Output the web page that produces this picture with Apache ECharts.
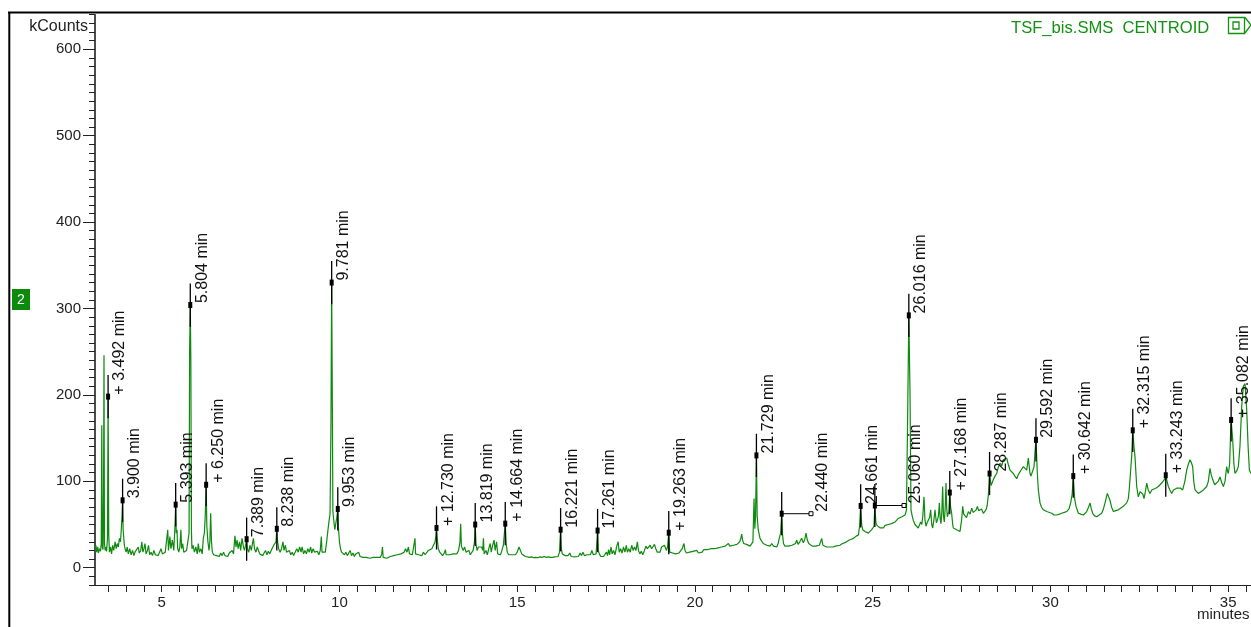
<!DOCTYPE html>
<html>
<head>
<meta charset="utf-8">
<script src="https://cdn.jsdelivr.net/npm/echarts@6/dist/echarts.min.js"></script>
<style>
  html, body { margin: 0; padding: 0; background: #fff; }
  #chart { width: 1251px; height: 627px; }
</style>
</head>
<body>
<div id="chart"></div>
<script>
// Total ion chromatogram: [retention time (min), intensity (kCounts)]
const chromatogram = [
  [3.124,20],[3.15,26],[3.17,18],[3.20,24],[3.22,17],[3.25,22],[3.28,19],[3.30,28],[3.315,165],[3.33,24],[3.35,21],[3.365,90],[3.377,246],[3.39,28],[3.41,20],[3.43,24],[3.45,19],[3.475,34],[3.492,198],[3.51,38],[3.53,18],[3.56,24],[3.59,16],[3.62,26],[3.65,20],[3.69,30],[3.72,22],[3.75,28],[3.78,24],[3.81,34],[3.84,30],[3.86,42],[3.885,60],[3.90,78],[3.915,44],[3.935,42],[3.95,26],[3.97,22],[4.00,18],
  [4.03,24],[4.06,16],[4.10,22],[4.14,15],[4.18,20],[4.22,14],[4.25,18],[4.30,16],[4.34,24],[4.37,17],[4.41,20],[4.44,30],[4.47,18],[4.50,22],[4.53,28],[4.56,16],[4.60,20],[4.63,26],[4.66,15],[4.70,18],[4.74,14],[4.78,20],[4.82,15],[4.86,17],[4.90,14],[4.94,18],[4.98,22],[5.02,16],[5.06,14],[5.10,18],[5.14,20],[5.17,44],[5.19,20],[5.23,36],[5.26,22],[5.30,32],[5.34,20],[5.37,45],[5.393,73],[5.41,40],[5.43,44],[5.45,22],[5.48,18],[5.51,24],[5.54,44],[5.56,22],[5.59,28],[5.62,18],[5.66,16],[5.70,20],[5.74,18],[5.77,40],[5.785,250],[5.804,304],[5.82,240],[5.835,45],[5.85,22],
  [5.88,26],[5.92,18],[5.96,24],[6.00,16],[6.03,28],[6.06,18],[6.10,22],[6.14,16],[6.17,34],[6.20,40],[6.225,60],[6.25,96],[6.27,48],[6.30,30],[6.33,20],[6.355,30],[6.378,63],[6.40,30],[6.425,18],[6.46,15],[6.50,17],[6.54,14],[6.58,16],[6.62,13],[6.66,17],[6.70,14],[6.74,18],[6.78,14],[6.82,16],[6.86,13],[6.90,17],[6.94,15],[6.98,20],[7.02,16],[7.06,37],[7.09,24],[7.12,32],[7.15,22],[7.19,30],[7.22,20],[7.26,34],[7.30,24],[7.33,20],[7.36,26],[7.389,33],[7.41,22],[7.45,18],[7.48,26],[7.52,20],[7.56,22],[7.58,34],[7.61,22],[7.65,18],[7.69,24],[7.72,20],[7.76,16],[7.80,18],[7.84,14],[7.88,17],[7.92,20],[7.96,15],[8.00,19],[8.04,16],[8.08,20],[8.12,18],[8.15,26],[8.19,24],[8.215,30],[8.238,45],[8.26,30],[8.29,22],[8.33,18],[8.37,22],[8.41,30],[8.44,20],[8.48,26],[8.51,18],[8.55,16],[8.59,20],[8.63,15],[8.67,18],[8.71,14],[8.75,16],[8.80,22],[8.84,18],[8.88,24],[8.92,18],[8.95,24],[8.99,16],[9.03,20],[9.07,16],[9.11,22],[9.15,18],[9.19,24],[9.22,17],[9.26,22],[9.30,18],[9.34,16],[9.38,19],[9.42,15],[9.46,20],[9.49,36],[9.51,18],[9.55,16],[9.60,18],[9.64,30],[9.68,45],[9.71,55],[9.735,62],[9.76,160],[9.781,330],[9.80,190],[9.815,65],[9.84,55],[9.87,44],[9.90,52],[9.925,58],[9.953,68],[9.975,44],[10.00,30],[10.03,22],[10.06,18],
  [10.10,20],[10.14,15],[10.18,18],[10.22,14],[10.26,16],[10.30,20],[10.34,14],[10.38,17],[10.42,13],[10.46,16],[10.50,14],[10.54,18],[10.58,13],[10.62,15],[10.66,12],[10.70,14],[10.75,12],[10.80,13],[10.85,11],[10.90,13],[10.95,12],[11.00,14],[11.05,12],[11.10,13],[11.15,12],[11.19,16],[11.21,24],[11.23,12],[11.28,13],[11.33,11],[11.38,12],[11.43,13],[11.48,12],[11.53,14],[11.58,12],[11.63,15],[11.68,13],[11.73,16],[11.78,14],[11.82,18],[11.86,22],[11.90,18],[11.94,24],[11.97,16],[12.00,18],[12.05,15],[12.10,17],[12.125,34],[12.14,16],[12.18,18],[12.22,15],[12.27,17],[12.32,14],[12.36,18],[12.41,15],[12.46,17],[12.50,20],[12.55,18],[12.60,22],[12.65,24],[12.69,30],[12.71,36],[12.73,46],[12.75,34],[12.78,22],[12.82,18],[12.86,16],[12.90,14],[12.95,17],[12.98,21],[13.00,15],[13.05,14],[13.10,15],[13.15,14],[13.20,16],[13.25,18],[13.30,16],[13.35,20],[13.39,30],[13.41,51],[13.43,25],[13.48,20],[13.52,24],[13.56,18],[13.60,16],[13.64,20],[13.68,15],[13.72,17],[13.76,20],[13.80,30],[13.819,50],[13.84,28],[13.87,20],[13.91,24],[13.95,22],
  [14.00,24],[14.03,20],[14.05,34],[14.07,16],[14.12,20],[14.16,15],[14.20,22],[14.24,28],[14.27,18],[14.31,26],[14.35,32],[14.38,20],[14.42,30],[14.45,16],[14.49,18],[14.53,15],[14.57,20],[14.61,26],[14.664,51],[14.69,28],[14.72,18],[14.76,15],[14.80,14],[14.85,15],[14.90,13],[14.95,15],[15.00,18],[15.05,24],[15.09,20],[15.13,16],[15.18,14],[15.23,13],[15.28,12.5],[15.34,12],[15.40,12.5],[15.46,11.5],[15.52,12],[15.58,11.5],[15.64,12.5],[15.70,12],[15.76,13],[15.82,12],[15.88,12.5],[15.94,12],[16.00,12],[16.06,12.5],[16.11,12],[16.15,13],[16.19,18],[16.221,44],[16.24,22],[16.27,16],[16.31,18],[16.35,14],[16.39,16],[16.43,14],[16.48,17],[16.52,13],[16.57,13],[16.62,12.5],[16.67,14],[16.72,13],[16.77,17],[16.81,14],[16.85,18],[16.89,14],[16.93,13],[16.97,15],[17.01,13],[17.06,15],[17.10,20],[17.14,15],[17.18,14],[17.22,16],[17.261,43],[17.28,20],[17.31,16],[17.35,13],[17.39,12.5],[17.43,13],[17.47,13],[17.51,18],[17.54,14],[17.57,21],[17.60,15],[17.64,24],[17.67,16],[17.71,20],[17.75,15],[17.80,25],[17.84,30],[17.87,18],[17.91,22],[17.95,17],[17.99,24],[18.03,18],[18.07,26],[18.10,18],[18.14,22],[18.18,18],[18.22,26],[18.26,20],[18.30,24],[18.34,20],[18.38,30],[18.41,20],[18.45,16],[18.49,19],[18.53,15],[18.58,20],[18.62,25],[18.66,22],[18.70,20],[18.74,26],[18.78,22],[18.82,20],[18.86,27],[18.90,22],[18.94,18],[18.98,20],[19.02,18],[19.06,24],[19.10,22],[19.14,26],[19.17,28],[19.20,20],[19.23,24],[19.263,40.5],
  [19.29,18],[19.33,16],[19.37,17],[19.41,15],[19.45,16],[19.50,15],[19.55,17],[19.60,18],[19.64,22],[19.69,28],[19.72,20],[19.76,17],[19.80,16],[19.85,18],[19.90,17],[19.95,19],[20.00,17],[20.05,20],[20.10,17],[20.15,19],[20.20,18],[20.25,21],[20.30,19],[20.35,21],[20.40,20],[20.45,22],[20.50,21],[20.55,22],[20.60,21],[20.65,23],[20.70,22],[20.75,24],[20.80,23],[20.85,25],[20.90,24],[20.94,28],[20.98,25],[21.03,26],[21.08,26],[21.13,24],[21.18,27],[21.22,28],[21.26,30],[21.29,34],[21.315,39],[21.34,32],[21.37,28],[21.41,30],[21.45,27],[21.50,28],[21.55,25],[21.60,26],[21.63,30],[21.662,80],[21.685,45],[21.705,60],[21.729,130],[21.75,60],[21.78,44],[21.83,34],[21.88,32],[21.92,28],[21.97,30],[22.02,26],[22.06,26],[22.11,25],[22.16,28],[22.21,25],[22.25,24],[22.30,24],[22.34,28],[22.37,34],[22.41,40],[22.44,62.5],
  [22.46,40],[22.49,28],[22.53,25],[22.58,24],[22.63,25],[22.68,24],[22.73,26],[22.78,25],[22.83,28],[22.86,32],[22.90,27],[22.95,30],[23.00,34],[23.05,29],[23.09,33],[23.124,40],[23.16,32],[23.20,28],[23.25,26],[23.30,25],[23.35,24],[23.40,25],[23.45,24],[23.50,26],[23.535,28],[23.565,34],[23.60,26],[23.65,25],[23.70,24],[23.75,25],[23.80,24],[23.85,25],[23.89,24],[23.95,25],[24.00,26],[24.08,26],[24.15,28],[24.22,29],[24.27,30],[24.34,32],[24.40,33],[24.46,34],[24.52,36],[24.60,38],[24.63,48],[24.661,71.5],[24.69,50],[24.718,44],[24.75,42],[24.784,42],[24.83,40],[24.877,40],[24.92,42],[24.971,44],[25.00,45],[25.037,48],[25.06,72],[25.09,52],[25.12,49],
  [25.16,49],[25.21,46],[25.25,48],[25.30,46],[25.35,49],[25.39,48],[25.44,50],[25.49,49],[25.53,51],[25.58,52],[25.63,53],[25.67,55],[25.72,57],[25.77,58],[25.82,59],[25.86,60],[25.91,61],[25.95,67],[25.984,179],[26.016,292],[26.05,200],[26.077,67],[26.11,60],[26.14,55],[26.19,50],[26.24,51],[26.28,46],[26.31,48],[26.35,53],[26.38,50],[26.41,60],[26.443,82],[26.47,55],[26.50,48],[26.53,52],[26.565,53],[26.60,58],[26.631,67],[26.66,50],[26.687,46],[26.72,55],[26.753,67],[26.79,52],[26.818,55],[26.85,60],[26.875,75],[26.90,56],[26.921,51],[26.945,65],[26.968,94],[26.99,60],[27.015,53],[27.04,70],[27.062,98],[27.08,70],[27.10,59],[27.14,65],[27.168,87],[27.19,70],[27.221,63],[27.25,50],[27.268,46],[27.31,45],[27.362,44],[27.41,43],[27.456,42],[27.50,55],[27.531,71],[27.56,62],[27.597,61],[27.64,58],[27.69,65],[27.74,62],[27.784,69],[27.83,64],[27.878,63],[27.91,67],[27.944,71],[27.98,66],[28.019,65],[28.06,68],[28.112,63],[28.15,65],[28.187,67],[28.22,72],[28.253,84],[28.287,109],[28.33,95],[28.394,102],[28.44,106],[28.487,109],[28.53,116],[28.581,121],[28.63,118],[28.675,125],[28.72,123],[28.769,127],[28.81,120],[28.862,113],[28.91,112],[28.956,109],[29.00,106],[29.05,103],[29.10,108],[29.144,111],[29.19,114],[29.237,117],[29.28,115],[29.331,113],[29.378,127],[29.40,118],[29.425,109],[29.45,106],[29.472,105],[29.50,112],[29.537,117],[29.565,134],[29.592,148],
  [29.63,110],[29.659,90],[29.706,75],[29.75,70],[29.80,67],[29.85,65],[29.894,65],[29.95,63],[30.034,63],[30.10,61],[30.175,61],[30.25,62],[30.316,63],[30.39,64],[30.456,65],[30.52,68],[30.569,75],[30.61,85],[30.642,106],[30.68,80],[30.719,71],[30.785,63],[30.85,62],[30.925,61],[30.97,63],[31.019,65],[31.07,70],[31.113,75],[31.15,68],[31.188,63],[31.24,60],[31.30,59],[31.37,61],[31.441,63],[31.49,68],[31.535,75],[31.60,86],[31.675,78],[31.72,70],[31.769,65],[31.84,66],[31.91,67],[31.98,69],[32.05,71],[32.10,73],[32.144,75],[32.19,80],[32.219,92],[32.285,129],[32.315,159],[32.35,140],[32.379,128],[32.426,94],[32.472,82],[32.52,88],[32.566,90],[32.60,85],[32.632,80],[32.67,88],[32.707,98],[32.75,90],[32.80,86],[32.85,90],[32.894,92],[32.96,92],[33.035,94],[33.08,96],[33.129,98],[33.18,100],[33.223,103],[33.243,107],[33.28,100],[33.316,94],[33.36,90],[33.41,86],[33.46,90],[33.504,90],[33.55,92],[33.597,94],[33.66,92],[33.719,90],[33.78,100],[33.832,113],[33.88,120],[33.926,125],[33.96,122],[34.00,117],[34.03,100],[34.066,90],[34.11,88],[34.16,86],[34.23,88],[34.301,90],[34.35,92],[34.395,94],[34.44,100],[34.488,115],[34.52,108],[34.563,102],[34.62,96],[34.676,94],[34.72,100],[34.769,105],[34.82,98],[34.863,94],[34.91,100],[34.957,117],[34.98,112],[35.004,109],[35.04,120],[35.07,159],[35.082,171],[35.126,148],[35.16,120],[35.191,109],[35.24,112],[35.285,117],[35.33,140],[35.379,186],[35.426,210],[35.473,213],[35.52,183],[35.56,140],[35.595,113],[35.641,109]
];

// Integrated peaks: retention time, apex height (kCounts)
const peakTimes   = [3.492, 3.900, 5.393, 5.804, 6.250, 7.389, 8.238, 9.781, 9.953, 12.730, 13.819, 14.664, 16.221, 17.261, 19.263, 21.729, 22.440, 24.661, 25.060, 26.016, 27.168, 28.287, 29.592, 30.642, 32.315, 33.243, 35.082];
const peakHeights = [198, 78, 73, 304, 96, 33, 45, 330, 68, 46, 50, 51, 44, 43, 40.5, 130, 62.5, 71.5, 72, 292, 87, 109, 148, 106, 159, 107, 171];
// peaks flagged with "+" in the peak table
const peakFlagged = [true, false, false, false, true, false, false, false, false, true, false, true, false, false, true, false, false, false, false, false, true, false, false, true, true, true, true];
// integration end times drawn as horizontal baselines (null = none)
const peakEnds    = [null, null, null, null, null, null, null, null, null, null, null, null, null, null, null, null, 23.264, null, 25.88, null, null, null, null, null, null, null, null];

// Axis ticks
const xLabelValues = [5, 10, 15, 20, 25, 30, 35];
const xTickValues = [3.5, 4, 4.5, 5, 5.5, 6, 6.5, 7, 7.5, 8, 8.5, 9, 9.5, 10, 10.5, 11, 11.5, 12, 12.5, 13, 13.5, 14, 14.5, 15, 15.5, 16, 16.5, 17, 17.5, 18, 18.5, 19, 19.5, 20, 20.5, 21, 21.5, 22, 22.5, 23, 23.5, 24, 24.5, 25, 25.5, 26, 26.5, 27, 27.5, 28, 28.5, 29, 29.5, 30, 30.5, 31, 31.5, 32, 32.5, 33, 33.5, 34, 34.5, 35, 35.5];
const yLabelValues = [0, 100, 200, 300, 400, 500, 600];

const X_MIN = 3.1238, X_MAX = 35.641;
const Y_MIN = -20, Y_MAX = 640;
const MARK_HALF = 25;   // half length of the peak marker bar, kCounts

const TRACE_GREEN = '#0e8a0e';
const FONT = '"Liberation Sans", Arial, Helvetica, sans-serif';

const chart = echarts.init(document.getElementById('chart'), null, { renderer: 'canvas' });

const peakData = peakTimes.map((t, i) => [t, peakHeights[i], i]);

const option = {
  animation: false,
  backgroundColor: '#fff',
  title: {
    text: 'TSF_bis.SMS  CENTROID',
    left: 1011,
    top: 20,
    padding: 0,
    textStyle: { color: '#129212', fontSize: 16.6, fontWeight: 'normal', fontFamily: FONT }
  },
  grid: { left: 95, right: 0, top: 14.7, bottom: 42, containLabel: false },
  xAxis: {
    type: 'value',
    min: X_MIN,
    max: X_MAX,
    axisLine: { show: true, onZero: false, lineStyle: { color: '#222', width: 1 } },
    axisTick: { show: true, length: 7, customValues: xTickValues, lineStyle: { color: '#222', width: 1 } },
    axisLabel: { customValues: xLabelValues, margin: 10, color: '#222', fontSize: 15, fontFamily: FONT },
    splitLine: { show: false }
  },
  yAxis: [
    {
      type: 'value',
      min: Y_MIN,
      max: Y_MAX,
      interval: 10,
      axisLine: { show: true, onZero: false, lineStyle: { color: '#111', width: 1.5 } },
      axisTick: { show: true, length: 6, lineStyle: { color: '#222', width: 1 } },
      axisLabel: { show: false },
      splitLine: { show: false }
    },
    {
      type: 'value',
      min: Y_MIN,
      max: Y_MAX,
      position: 'left',
      axisLine: { show: false },
      axisTick: { show: true, length: 12, customValues: yLabelValues, lineStyle: { color: '#222', width: 1 } },
      axisLabel: { customValues: yLabelValues, margin: 14, color: '#222', fontSize: 15, fontFamily: FONT },
      splitLine: { show: false }
    }
  ],
  series: [
    {
      type: 'line',
      data: chromatogram,
      xAxisIndex: 0,
      yAxisIndex: 0,
      showSymbol: false,
      symbol: 'none',
      sampling: null,
      clip: true,
      lineStyle: { color: TRACE_GREEN, width: 1.2 },
      z: 2
    },
    {
      type: 'custom',
      data: peakData,
      xAxisIndex: 0,
      yAxisIndex: 0,
      z: 3,
      renderItem: function (params, api) {
        const i = api.value(2);
        const t = api.value(0), h = api.value(1);
        const p = api.coord([t, h]);
        const top = api.coord([t, h + MARK_HALF])[1];
        const bot = api.coord([t, h - MARK_HALF])[1];
        const children = [
          { type: 'line', shape: { x1: p[0], y1: top, x2: p[0], y2: bot }, style: { stroke: '#000', lineWidth: 1.3 } },
          { type: 'rect', shape: { x: p[0] - 2, y: p[1] - 3, width: 4, height: 6 }, style: { fill: '#000' } }
        ];
        let labelX = p[0];
        if (peakEnds[i] != null) {
          const e = api.coord([peakEnds[i], h]);
          children.push({ type: 'line', shape: { x1: p[0], y1: p[1], x2: e[0], y2: p[1] }, style: { stroke: '#000', lineWidth: 1 } });
          children.push({ type: 'rect', shape: { x: e[0] - 2, y: p[1] - 2, width: 4, height: 4 }, style: { fill: '#fff', stroke: '#000', lineWidth: 1 } });
          labelX = e[0];
        }
        const text = (peakFlagged[i] ? '+ ' : '') + peakTimes[i].toFixed(3) + ' min';
        children.push({
          type: 'text',
          x: labelX + 12,
          y: p[1] - 2,
          rotation: Math.PI / 2,
          style: { text: text, fill: '#111', font: '16px ' + FONT, align: 'left', verticalAlign: 'middle' }
        });
        return { type: 'group', children: children };
      }
    }
  ],
  graphic: [
    // window frame
    { type: 'line', shape: { x1: 8, y1: 12.5, x2: 1251, y2: 12.5 }, style: { stroke: '#000', lineWidth: 2 }, z: 10 },
    { type: 'line', shape: { x1: 9.3, y1: 12, x2: 9.3, y2: 627 }, style: { stroke: '#000', lineWidth: 2 }, z: 10 },
    // y unit
    { type: 'text', x: 88, y: 27, style: { text: 'kCounts', fill: '#222', font: '16px ' + FONT, align: 'right', verticalAlign: 'middle' }, z: 10 },
    // x unit
    { type: 'text', x: 1197, y: 615, style: { text: 'minutes', fill: '#222', font: '15px ' + FONT, align: 'left', verticalAlign: 'middle' }, z: 10 },
    // trace number tag
    { type: 'rect', shape: { x: 12, y: 289, width: 18, height: 21 }, style: { fill: '#0b8a0b' }, z: 10 },
    { type: 'text', x: 21, y: 300, style: { text: '2', fill: '#fff', font: '14px ' + FONT, align: 'center', verticalAlign: 'middle' }, z: 11 },
    // window buttons
    { type: 'rect', shape: { x: 1228.5, y: 17.5, width: 16, height: 16 }, style: { fill: 'none', stroke: '#129212', lineWidth: 1.3 }, z: 10 },
    { type: 'rect', shape: { x: 1233, y: 22, width: 6, height: 7 }, style: { fill: 'none', stroke: '#129212', lineWidth: 1.3 }, z: 10 },
    { type: 'polyline', shape: { points: [[1245, 17.5], [1251, 25], [1245, 33]] }, style: { fill: 'none', stroke: '#129212', lineWidth: 1.3 }, z: 10 }
  ]
};

chart.setOption(option);
</script>
</body>
</html>
